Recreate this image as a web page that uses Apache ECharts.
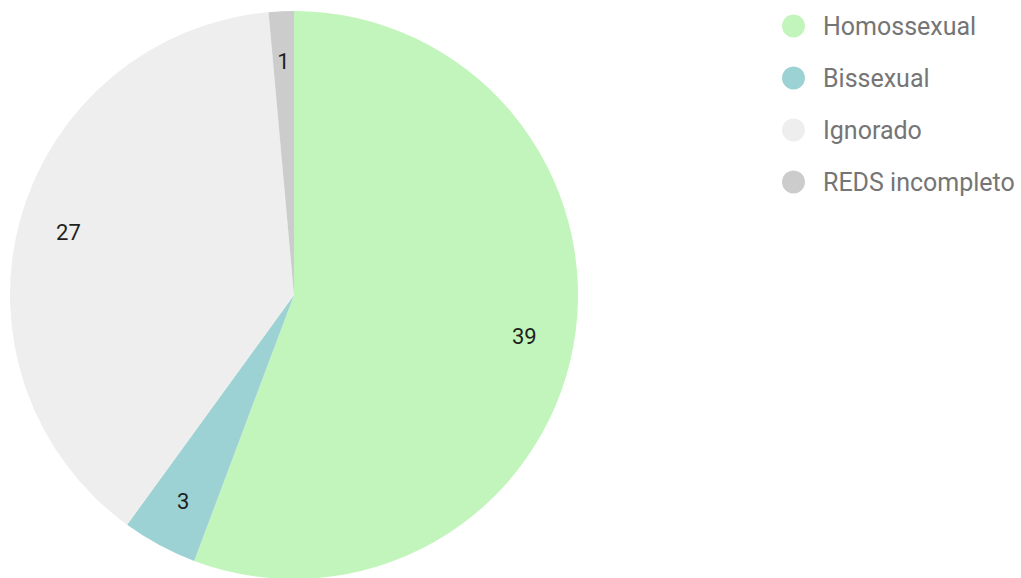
<!DOCTYPE html>
<html>
<head>
<meta charset="utf-8">
<script src="https://cdn.jsdelivr.net/npm/echarts@6/dist/echarts.min.js"></script>
<style>
  html, body { margin: 0; padding: 0; background: #fff; }
  #chart { width: 1021px; height: 578px; }
</style>
</head>
<body>
<div id="chart"></div>
<script>
var categories = ['Homossexual', 'Bissexual', 'Ignorado', 'REDS incompleto'];
var values = [39, 3, 27, 1];
var colors = ['#c2f5bb', '#9cd2d3', '#eeeeee', '#cccccc'];

var data = categories.map(function(name, i) {
  return { name: name, value: values[i], itemStyle: { color: colors[i] } };
});

var chart = echarts.init(document.getElementById('chart'), null, { renderer: 'svg' });
chart.setOption({
  animation: false,
  legend: {
    orient: 'vertical',
    left: 777,
    top: 6,
    icon: 'circle',
    itemWidth: 23,
    itemHeight: 23,
    itemGap: 22,
    data: categories,
    textStyle: { color: '#757575', fontSize: 25, fontFamily: 'Roboto', lineHeight: 30, padding: [0, 0, 0, 13] }
  },
  series: [{
    // filled slices
    type: 'pie',
    center: [294, 295],
    radius: 284,
    startAngle: 90,
    clockwise: true,
    data: data,
    label: { show: false },
    labelLine: { show: false },
    emphasis: { disabled: true }
  }, {
    // transparent ring so labels sit near the outer edge
    type: 'pie',
    center: [294, 295],
    radius: [178, 284],
    startAngle: 90,
    clockwise: true,
    silent: true,
    data: categories.map(function(name, i) {
      return { name: name, value: values[i] };
    }),
    itemStyle: { color: 'rgba(0,0,0,0)' },
    label: {
      show: true,
      position: 'inside',
      formatter: '{c}',
      color: '#1f1f1f',
      fontSize: 22,
      fontFamily: 'Roboto'
    },
    labelLine: { show: false },
    emphasis: { disabled: true }
  }]
});
window.addEventListener('resize', function() { chart.resize(); });
</script>
</body>
</html>
